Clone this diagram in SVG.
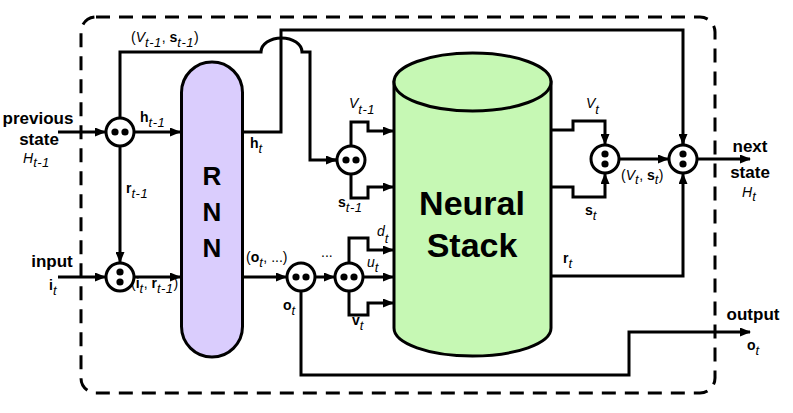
<svg xmlns="http://www.w3.org/2000/svg" width="793" height="413" viewBox="0 0 793 413">
<defs>
<style>
.ln{fill:none;stroke:#000;stroke-width:3;stroke-linejoin:miter}
.ar{marker-end:url(#ah)}
.cc{fill:#fff;stroke:#000;stroke-width:3}
.dot{fill:#000}
text{font-family:"Liberation Sans",Arial,sans-serif;fill:#000}
.lb{font-size:14px}
.b{font-weight:bold}
.i{font-style:italic}
.sub{font-size:13px;font-style:italic;font-weight:normal;letter-spacing:0.5px}
.big{font-size:17px;font-weight:bold}
</style>
<marker id="ah" markerWidth="11" markerHeight="9" refX="10" refY="4.5" orient="auto" markerUnits="userSpaceOnUse"><path d="M0,0 L11,4.5 L0,9 z" fill="#000"/></marker>
</defs>
<rect width="793" height="413" fill="#fff"/>
<g id="boundary">
<rect x="81" y="17" width="634" height="376" rx="15" ry="15" fill="none" stroke="#000" stroke-width="3" stroke-dasharray="14 9"/>
</g>
<g id="connectors">
<path class="ln ar" d="M58 132 H105"/>
<path class="ln" d="M120 118 V52 H261 A20.5 14 0 0 1 302 52 H310 V160 H336"/>
<path class="ln ar" d="M329 160 H336"/>
<path class="ln ar" d="M134 132 H180"/>
<path class="ln ar" d="M120 146 V262"/>
<path class="ln ar" d="M58 277 H105"/>
<path class="ln ar" d="M134 277 H180"/>
<path class="ln" d="M242 132 H281 V30 H683 V144"/>
<path class="ln ar" d="M683 135 V144"/>
<path class="ln ar" d="M351 146 V122 H368 V131 H393"/>
<path class="ln ar" d="M351 174 V198 H368 V187 H393"/>
<path class="ln ar" d="M242 277 H286"/>
<path class="ln ar" d="M315 277 H334"/>
<path class="ln ar" d="M301 291 V375 H629 V332 H750"/>
<path class="ln ar" d="M349 263 V238 H368 V250 H393"/>
<path class="ln ar" d="M363 277 H393"/>
<path class="ln ar" d="M349 291 V315 H368 V303 H393"/>
<path class="ln ar" d="M551 130 H573 V121 H605 V144"/>
<path class="ln ar" d="M551 187 H573 V197 H605 V174"/>
<path class="ln ar" d="M619 159 H668"/>
<path class="ln ar" d="M551 276 H683 V174"/>
<path class="ln ar" d="M697 159 H750"/>
</g>
<g id="rnn">
<rect x="181.5" y="62" width="61" height="295" rx="30.5" ry="30.5" fill="#dacdfd" stroke="#000" stroke-width="3"/>
<text x="212" y="185" text-anchor="middle" font-size="26" font-weight="bold">R</text>
<text x="212" y="221" text-anchor="middle" font-size="26" font-weight="bold">N</text>
<text x="212" y="257" text-anchor="middle" font-size="26" font-weight="bold">N</text>
</g>
<g id="neural-stack">
<path d="M394 82 V328 A78.5 28 0 0 0 551 328 V82 Z" fill="#c6f8b4" stroke="#000" stroke-width="3"/>
<ellipse cx="472.5" cy="82" rx="78.5" ry="29" fill="#c6f8b4" stroke="#000" stroke-width="3"/>
<text x="472" y="215" text-anchor="middle" font-size="34" font-weight="bold">Neural</text>
<text x="472" y="257" text-anchor="middle" font-size="34" font-weight="bold">Stack</text>
</g>
<g id="c1"><circle class="cc" cx="120" cy="132" r="14"/><circle class="dot" cx="115" cy="132" r="3.6"/><circle class="dot" cx="125" cy="132" r="3.6"/></g>
<g id="c2"><circle class="cc" cx="120" cy="277" r="14"/><circle class="dot" cx="120" cy="272" r="3.6"/><circle class="dot" cx="120" cy="282" r="3.6"/></g>
<g id="c3"><circle class="cc" cx="351" cy="160" r="14"/><circle class="dot" cx="346" cy="160" r="3.6"/><circle class="dot" cx="356" cy="160" r="3.6"/></g>
<g id="c4"><circle class="cc" cx="301" cy="277" r="14"/><circle class="dot" cx="296" cy="277" r="3.6"/><circle class="dot" cx="306" cy="277" r="3.6"/></g>
<g id="c5"><circle class="cc" cx="349" cy="277" r="14"/><circle class="dot" cx="344" cy="277" r="3.6"/><circle class="dot" cx="354" cy="277" r="3.6"/></g>
<g id="c6"><circle class="cc" cx="605" cy="159" r="14"/><circle class="dot" cx="605" cy="154" r="3.6"/><circle class="dot" cx="605" cy="164" r="3.6"/></g>
<g id="c7"><circle class="cc" cx="683" cy="159" r="14"/><circle class="dot" cx="683" cy="154" r="3.6"/><circle class="dot" cx="683" cy="164" r="3.6"/></g>
<g id="io-labels">
<text class="big" x="38" y="124" text-anchor="middle">previous</text>
<text class="big" x="39" y="145" text-anchor="middle">state</text>
<text class="lb i" x="23" y="163">H<tspan class="sub" dy="4">t-1</tspan></text>
<text class="big" x="52" y="267" text-anchor="middle">input</text>
<text class="lb b" x="49" y="290">i<tspan class="sub" dy="5">t</tspan></text>
<text class="big" x="750" y="152" text-anchor="middle">next</text>
<text class="big" x="750" y="178" text-anchor="middle">state</text>
<text class="lb i" x="742" y="197">H<tspan class="sub" dy="4">t</tspan></text>
<text class="big" x="753" y="320" text-anchor="middle">output</text>
<text class="lb b" x="747" y="350">o<tspan class="sub" dy="5">t</tspan></text>
</g>
<g id="edge-labels">
<text class="lb" x="131" y="42">(<tspan class="i">V</tspan><tspan class="sub" dy="5">t-1</tspan><tspan dy="-5">, </tspan><tspan class="b">s</tspan><tspan class="sub" dy="5">t-1</tspan><tspan dy="-5">)</tspan></text>
<text class="lb b" x="140" y="122">h<tspan class="sub" dy="5">t-1</tspan></text>
<text class="lb b" x="250" y="148">h<tspan class="sub" dy="5">t</tspan></text>
<text class="lb b" x="126" y="193">r<tspan class="sub" dy="5">t-1</tspan></text>
<text class="lb" x="131" y="288">(<tspan class="b">i</tspan><tspan class="sub" dy="5">t</tspan><tspan dy="-5">, </tspan><tspan class="b">r</tspan><tspan class="sub" dy="5">t-1</tspan><tspan dy="-5">)</tspan></text>
<text class="lb" x="246" y="262">(<tspan class="b">o</tspan><tspan class="sub" dy="5">t</tspan><tspan dy="-5">, ...)</tspan></text>
<text class="lb" x="321" y="257">...</text>
<text class="lb b" x="283" y="310">o<tspan class="sub" dy="5">t</tspan></text>
<text class="lb i" x="349" y="108">V<tspan class="sub" dy="6">t-1</tspan></text>
<text class="lb b" x="338" y="207">s<tspan class="sub" dy="5">t-1</tspan></text>
<text class="lb i" x="377" y="236">d<tspan class="sub" dy="7">t</tspan></text>
<text class="lb i" x="367" y="267">u<tspan class="sub" dy="5">t</tspan></text>
<text class="lb b" x="352" y="325">v<tspan class="sub" dy="5">t</tspan></text>
<text class="lb i" x="586" y="108">V<tspan class="sub" dy="6">t</tspan></text>
<text class="lb b" x="585" y="215">s<tspan class="sub" dy="5">t</tspan></text>
<text class="lb" x="621" y="180">(<tspan class="i">V</tspan><tspan class="sub" dy="4">t</tspan><tspan dy="-4">, </tspan><tspan class="b">s</tspan><tspan class="sub" dy="4">t</tspan><tspan dy="-4">)</tspan></text>
<text class="lb b" x="563" y="263">r<tspan class="sub" dy="5">t</tspan></text>
</g>
</svg>
